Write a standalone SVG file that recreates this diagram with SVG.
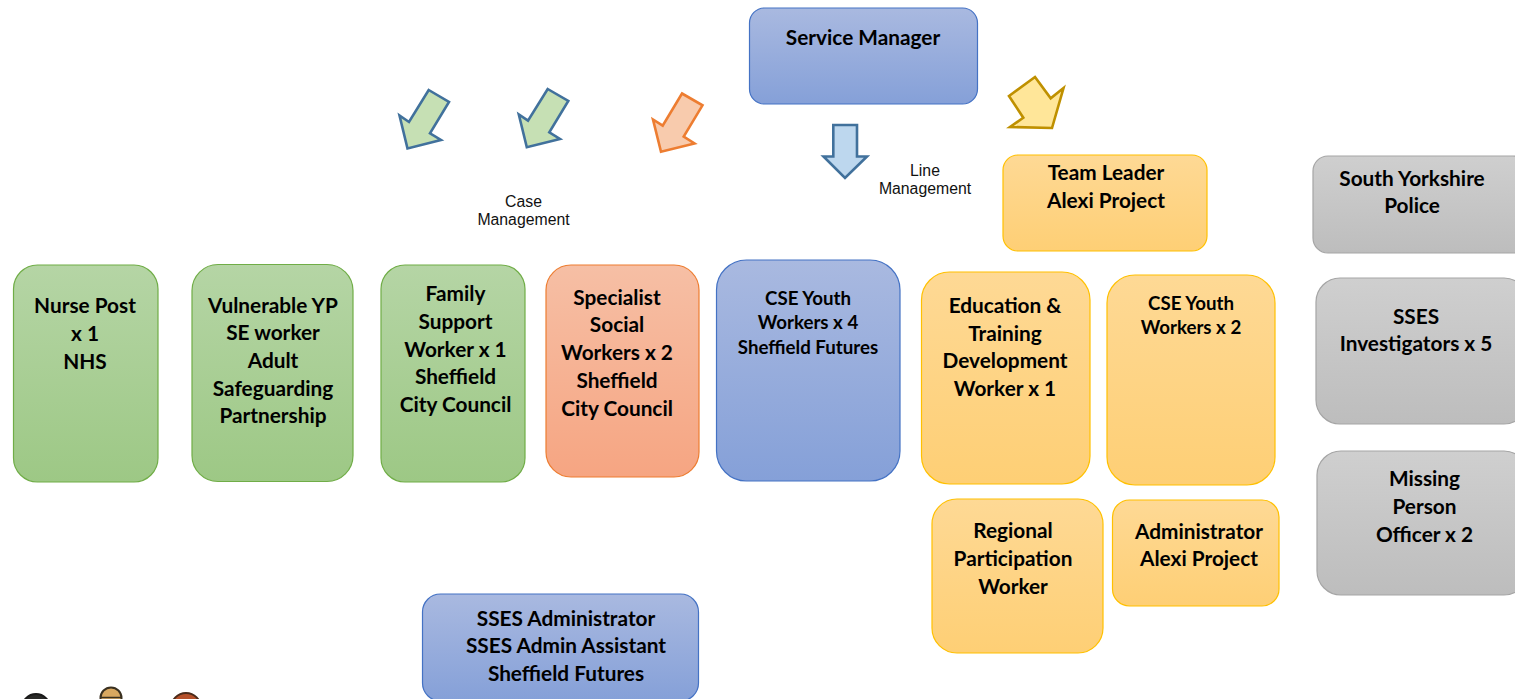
<svg xmlns="http://www.w3.org/2000/svg" width="1515" height="699" viewBox="0 0 1515 699">
<style>
.n{stroke-width:1.2}
.g{fill:url(#green);stroke:#70ad47}
.b{fill:url(#blue);stroke:#4472c4}
.o{fill:url(#orange);stroke:#ed7d31}
.y{fill:url(#yellow);stroke:#ffc000}
.s{fill:url(#grey);stroke:#a5a5a5}
text{font-family:"Lato","Liberation Sans",sans-serif;font-weight:700;font-size:20.8px;text-anchor:middle;fill:#000}
text.sm{font-size:18.7px}
text.lab{font-family:"Liberation Sans",Arial,sans-serif;font-weight:400;font-size:15.8px;fill:#111}
.a{stroke-width:2.6;stroke-linejoin:miter}
</style>
<defs>
<linearGradient id="green" x1="0" y1="0" x2="0" y2="1"><stop offset="0" stop-color="#b5d5a5"/><stop offset="1" stop-color="#9dc885"/></linearGradient>
<linearGradient id="blue" x1="0" y1="0" x2="0" y2="1"><stop offset="0" stop-color="#a9b9e0"/><stop offset="1" stop-color="#85a0d8"/></linearGradient>
<linearGradient id="orange" x1="0" y1="0" x2="0" y2="1"><stop offset="0" stop-color="#f6bfa5"/><stop offset="1" stop-color="#f6a582"/></linearGradient>
<linearGradient id="yellow" x1="0" y1="0" x2="0" y2="1"><stop offset="0" stop-color="#fed995"/><stop offset="1" stop-color="#fecf75"/></linearGradient>
<linearGradient id="grey" x1="0" y1="0" x2="0" y2="1"><stop offset="0" stop-color="#cfcfcf"/><stop offset="1" stop-color="#bdbdbd"/></linearGradient>
</defs>
<g id="connectors">
<polygon class="a" fill="#c6e0b4" stroke="#41719c" points="428.7,90 449,102 430,133.3 441,140 407.500,148.500 399.500,115.500 409,122"/>
<polygon class="a" fill="#c6e0b4" stroke="#41719c" points="547.7,89 568.300,101 549.3,132.3 560,139 526.800,147.200 518.800,114.500 528,120.700"/>
<polygon class="a" fill="#f8cbad" stroke="#ed7d31" points="682,93.500 702.500,105.300 683.700,136.700 694.500,143.500 661,151.800 653,119.500 662.700,125.700"/>
<polygon class="a" fill="#bdd7ee" stroke="#41719c" points="833.3,125 857,125 857,156.500 867,156.500 845,178 823.500,156.500 833.3,156.500"/>
<polygon class="a" fill="#ffe699" stroke="#bf9000" points="1035,77 1050.7,98.300 1063.500,88 1052,128 1010,127 1023.300,117.700 1009,96"/>
</g>
<g id="labels">
<text class="lab" x="523.500" y="207">Case</text>
<text class="lab" x="523.500" y="224.500">Management</text>
<text class="lab" x="925" y="176">Line</text>
<text class="lab" x="925" y="194">Management</text>
</g>
<g id="service-manager"><rect class="n b" x="749.500" y="8" width="228" height="96" rx="15"/><text x="863" y="44.500">Service Manager</text></g>
<g id="team-leader"><rect class="n y" x="1003" y="155" width="204" height="96" rx="15"/><text x="1106" y="179.500">Team Leader</text><text x="1106" y="207.500">Alexi Project</text></g>
<g id="syp"><rect class="n s" x="1313" y="156" width="215" height="97" rx="15"/><text x="1412" y="185.500">South Yorkshire</text><text x="1412" y="212.500">Police</text></g>
<g id="investigators"><rect class="n s" x="1316" y="278" width="212" height="146" rx="24"/><text x="1416" y="323.500">SSES</text><text x="1416" y="350.500">Investigators x 5</text></g>
<g id="missing"><rect class="n s" x="1317" y="451" width="211" height="144" rx="24"/><text x="1424.500" y="485.500">Missing</text><text x="1424.500" y="513.500">Person</text><text x="1424.500" y="541.500">Officer x 2</text></g>
<g id="nurse"><rect class="n g" x="13.500" y="265" width="144.500" height="217" rx="24"/><text x="85" y="312.500">Nurse Post</text><text x="85" y="340.500">x 1</text><text x="85" y="368.500">NHS</text></g>
<g id="vulnerable"><rect class="n g" x="192" y="264.500" width="161" height="217" rx="26"/><text x="273" y="312.500">Vulnerable YP</text><text x="273" y="339.500">SE worker</text><text x="273" y="367.500">Adult</text><text x="273" y="395.500">Safeguarding</text><text x="273" y="422.500">Partnership</text></g>
<g id="family"><rect class="n g" x="381" y="265" width="144" height="217" rx="24"/><text x="455.500" y="300.500">Family</text><text x="455.500" y="328.500">Support</text><text x="455.500" y="356.500">Worker x 1</text><text x="455.500" y="383.500">Sheffield</text><text x="455.500" y="411.500">City Council</text></g>
<g id="specialist"><rect class="n o" x="546" y="265" width="153" height="212" rx="25"/><text x="617" y="304.500">Specialist</text><text x="617" y="331.500">Social</text><text x="617" y="359.500">Workers x 2</text><text x="617" y="387.500">Sheffield</text><text x="617" y="415.500">City Council</text></g>
<g id="cse4"><rect class="n b" x="716.500" y="260" width="183.500" height="221" rx="30"/><text class="sm" x="808" y="304.500">CSE Youth</text><text class="sm" x="808" y="328.500">Workers x 4</text><text class="sm" x="808" y="353.500">Sheffield Futures</text></g>
<g id="education"><rect class="n y" x="921.500" y="272" width="168.500" height="212" rx="28"/><text x="1005" y="312.500">Education &amp;</text><text x="1005" y="340.500">Training</text><text x="1005" y="367.500">Development</text><text x="1005" y="395.500">Worker x 1</text></g>
<g id="cse2"><rect class="n y" x="1107" y="275" width="168" height="210" rx="28"/><text class="sm" x="1191" y="309.500">CSE Youth</text><text class="sm" x="1191" y="333.500">Workers x 2</text></g>
<g id="regional"><rect class="n y" x="932" y="499" width="171" height="154" rx="25"/><text x="1013" y="537.500">Regional</text><text x="1013" y="565.500">Participation</text><text x="1013" y="593.500">Worker</text></g>
<g id="administrator"><rect class="n y" x="1112.500" y="500" width="166.500" height="106" rx="17"/><text x="1199" y="538.500">Administrator</text><text x="1199" y="565.500">Alexi Project</text></g>
<g id="sses-admin"><rect class="n b" x="422.500" y="594" width="276" height="107" rx="18"/><text x="566" y="625.500">SSES Administrator</text><text x="566" y="652.500">SSES Admin Assistant</text><text x="566" y="680.500">Sheffield Futures</text></g>
<g id="people">
<circle cx="36" cy="708" r="14" fill="#2a2a28" stroke="#1a1a1a" stroke-width="2"/>
<circle cx="111" cy="698" r="10.500" fill="#d9a860" stroke="#3a3020" stroke-width="2"/>
<line x1="100.500" y1="697.500" x2="121.500" y2="697.500" stroke="#3a3020" stroke-width="1.500"/>
<circle cx="186" cy="708" r="15" fill="#b5502a" stroke="#4a2a1a" stroke-width="2"/>
</g>
</svg>
